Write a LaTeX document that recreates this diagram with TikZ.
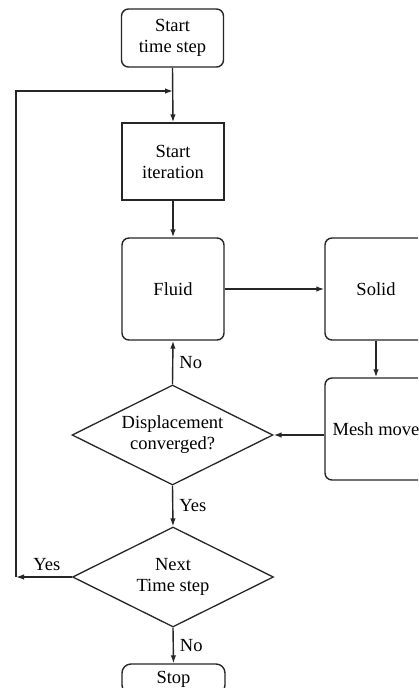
\documentclass[tikz,border=0pt]{standalone}
\usepackage{fontspec}
\setmainfont{Liberation Serif}
\usetikzlibrary{shapes.geometric,arrows.meta}
\begin{document}
\begin{tikzpicture}[x=1pt,y=-1pt,
  every node/.style={font=\fontsize{18.5}{21}\selectfont, align=center, text=black},
  roundbox/.style={draw=black!85, line width=1.4pt, rounded corners=7pt, inner sep=0pt, minimum width=102pt},
  sqbox/.style={draw=black!85, line width=1.4pt, inner sep=0pt, minimum width=102pt},
  decision/.style={draw=black!85, line width=1.3pt, shape=diamond, aspect=2, inner sep=0pt, minimum width=201pt, minimum height=100pt},
  conn/.style={line width=1.4pt, draw=black!85, -{Latex[length=8pt,width=5.5pt]}},
  lbl/.style={inner sep=0pt}
]
\useasboundingbox (0,0) rectangle (418,688);
\clip (0,0) rectangle (418,688);
\fill[white] (0,0) rectangle (418,688);

\node[roundbox, minimum height=58pt] (start) at (172.5,38) {Start\\time step};
\node[sqbox, minimum height=77pt] (iter) at (173,161.5) {Start\\iteration};
\node[roundbox, minimum height=102pt] (fluid) at (173,289) {Fluid};
\node[roundbox, minimum height=102pt] (solid) at (376,289) {Solid};
\node[roundbox, minimum height=102pt] (mesh) at (376,429) {Mesh move};
\node[decision] (conv) at (172.5,435) {Displacement\\converged?};
\node[decision] (next) at (173,577) {Next\\Time step};
\node[roundbox, rounded corners=9pt, minimum height=30pt, minimum width=103pt] (stop) at (173.5,679) {Stop};

\coordinate (join) at (173,91);
\coordinate (corner) at (16,577);

\draw[conn] (start.south) -- (iter.north);
\draw[conn] (iter.south) -- (fluid.north);
\draw[conn] (fluid.east) -- (solid.west);
\draw[conn] (solid.south) -- (mesh.north);
\draw[conn] (mesh.west |- conv.east) -- (conv.east);
\draw[conn] (conv.north) -- node[lbl, right=6pt] {No} (fluid.south);
\draw[conn] (conv.south) -- node[lbl, right=6pt] {Yes} (next.north);
\draw[conn] (next.west) -- node[lbl, above=6pt, xshift=3pt] {Yes} (corner);
\draw[conn] (corner) |- (join);
\draw[conn] (next.south) -- node[lbl, right=6pt] {No} (stop.north);
\end{tikzpicture}
\end{document}
